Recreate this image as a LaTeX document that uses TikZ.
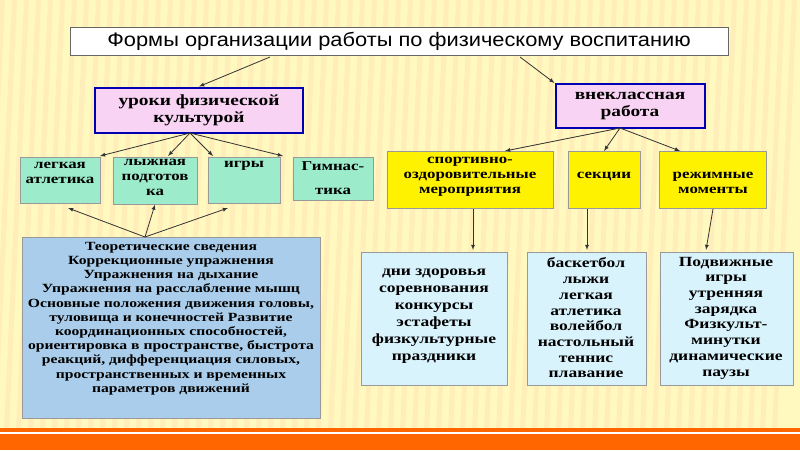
\documentclass[tikz,border=0pt]{standalone}
\usepackage{fontspec}
\setmainfont[FakeStretch=1.25]{Liberation Serif}
\newfontfamily\titlefont[FakeStretch=1.12]{Liberation Sans}
\definecolor{bigblue}{HTML}{A9CDEA}
\definecolor{grnbox}{HTML}{9CEBCB}
\definecolor{pinkbox}{HTML}{F8D3F3}
\begin{document}
\begin{tikzpicture}[x=1pt,y=-1pt,
 bx/.style={draw=black!40,line width=0.5pt,align=center,inner sep=0pt},
 grn/.style={bx,fill=grnbox},
 yel/.style={bx,fill=yellow},
 cyn/.style={bx,fill=cyan!15},
 txt/.style={align=center,font=\bfseries\fontsize{12}{13.5}\selectfont,inner sep=0pt,anchor=north},
 gtxt/.style={txt,font=\bfseries\fontsize{13.5}{15}\selectfont},
 ctxt/.style={align=center,font=\bfseries\fontsize{14}{17}\selectfont,inner sep=0pt},
 pnk/.style={draw=blue!70!black,line width=2pt,fill=pinkbox,align=center,font=\bfseries\fontsize{15.5}{17}\selectfont},
 arr/.style={-latex,thick,black!80}]
\useasboundingbox (0,0) rectangle (800,450);
\fill[orange!20!yellow!25!white] (0,0) rectangle (800,450);
\foreach \i in {0,12,...,800}{\fill[orange!30!white,opacity=0.35] (\i,0) -- (\i+5,0) -- (\i-15,430) -- (\i-20,430) -- cycle;}
\fill[orange!80!red] (0,428) rectangle (800,450);
\draw[white,line width=1.5pt] (0,433) -- (800,433);
\node[draw=black!60,fill=white,minimum width=658,minimum height=28,font=\titlefont\fontsize{19.5}{20}\selectfont] (t) at (399,41) {Формы организации работы по физическому воспитанию};
\node[pnk,minimum width=208,minimum height=45] (u) at (199,110) {уроки физической\\культурой};
\node[pnk,minimum width=149,minimum height=44] (v) at (630,106) {внеклассная\\работа};
\node[grn,minimum width=80,minimum height=46,anchor=north] (g1) at (60,157) {};
\node[gtxt] (g1t) at (60,162) {легкая\\атлетика};
\node[grn,minimum width=84,minimum height=47,anchor=north] (g2) at (155,157) {};
\node[gtxt] (g2t) at (155,159) {лыжная\\подготов\\ка};
\node[grn,minimum width=72,minimum height=46,anchor=north] (g3) at (244,157) {};
\node[gtxt] (g3t) at (244,161) {игры};
\node[grn,minimum width=80,minimum height=43,anchor=north] (g4) at (333,157) {};
\node[gtxt,font=\bfseries\fontsize{13.5}{24}\selectfont] (g4t) at (333,161) {Гимнас-\\тика};
\node[yel,minimum width=166,minimum height=57] (y1) at (470,180) {};
\node[gtxt] (y1t) at (470,157) {спортивно-\\оздоровительные\\мероприятия};
\node[yel,minimum width=72,minimum height=57] (y2) at (604,180) {};
\node[gtxt] (y2t) at (604,172) {секции};
\node[yel,minimum width=107,minimum height=57] (y3) at (713,180) {};
\node[gtxt] (y3t) at (713,172) {режимные\\моменты};
\node[bx,fill=bigblue,minimum width=298,minimum height=181,anchor=north west] (b) at (22,237) {};
\node[txt,font=\bfseries\fontsize{12.5}{14.2}\selectfont] (bt1) at (171,242) {Теоретические сведения\\Коррекционные упражнения\\Упражнения на дыхание\\Упражнения на расслабление мышц\\Основные положения движения головы,\\туловища и конечностей Развитие\\координационных способностей,\\ориентировка в пространстве, быстрота\\реакций, дифференциация силовых,\\пространственных и временных\\параметров движений};
\node[cyn,minimum width=146,minimum height=133,anchor=north west] (c1) at (361,252) {};
\node[ctxt] (c1t) at (434,316) {дни здоровья\\соревнования\\конкурсы\\эстафеты\\физкультурные\\праздники};
\node[cyn,minimum width=119,minimum height=133,anchor=north west] (c2) at (527,252) {};
\node[ctxt,font=\bfseries\fontsize{14}{15.7}\selectfont] (c2t) at (586,318) {баскетбол\\лыжи\\легкая\\атлетика\\волейбол\\настольный\\теннис\\плавание};
\node[cyn,minimum width=133,minimum height=133,anchor=north west] (c3) at (660,252) {};
\node[ctxt,font=\bfseries\fontsize{14}{15.7}\selectfont] (c3t) at (726,318) {Подвижные\\игры\\утренняя\\зарядка\\Физкульт-\\минутки\\динамические\\паузы};
\coordinate (ts1) at (270,57); \coordinate (ts2) at (520,57);
\draw[arr] (ts1) -- (u.north);
\draw[arr] (ts2) -- (v.north west);
\coordinate (ub) at (190,133);
\foreach \x in {100,168,213,283}{\draw[arr] (ub) -- (\x,156);}
\coordinate (vb) at (620,128);
\draw[arr] (vb) -- (505,151); \draw[arr] (vb) -- (604,151); \draw[arr] (vb) -- (680,151);
\coordinate (bt) at (145,237);
\draw[arr] (bt) -- (68,208); \draw[arr] (bt) -- (g2.south); \draw[arr] (bt) -- (228,208);
\draw[arr] (473,209) -- (473,250);
\draw[arr] (587,209) -- (587,250);
\draw[arr] (713,209) -- (706,250);
\end{tikzpicture}
\end{document}
